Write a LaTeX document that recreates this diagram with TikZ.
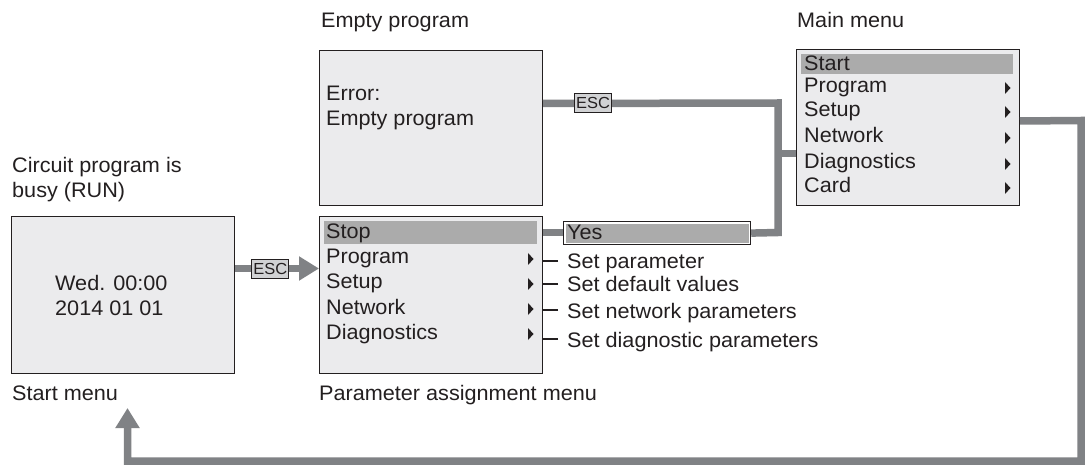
\documentclass[tikz,border=0pt]{standalone}
\usepackage{fontspec}
\setmainfont{Liberation Sans}[FakeStretch=1.03]
\usetikzlibrary{positioning,arrows.meta,calc}
\definecolor{ink}{HTML}{231F20}
\definecolor{screen}{HTML}{EBEBED}
\definecolor{hilite}{HTML}{ABABAB}
\definecolor{keyfill}{HTML}{D1D2D4}
\definecolor{wiregray}{HTML}{808285}

\begin{document}
\begin{tikzpicture}[x=1pt, y=-1pt,
    every node/.style={text=ink, font=\fontsize{21}{25}\selectfont, inner sep=0pt},
    screenbox/.style={draw=ink, fill=screen, line width=1pt, anchor=north west,
                      minimum width=223pt, minimum height=157pt},
    caption/.style={anchor=base west, align=left},
    keybox/.style={draw=ink, fill=keyfill, line width=0.8pt, minimum width=37pt,
                   minimum height=19pt, font=\fontsize{16}{18}\selectfont},
    yesbox/.style={draw=ink, fill=white, line width=1.2pt, anchor=north west,
                   minimum width=187pt, minimum height=23pt,
                   path picture={\fill[hilite] ($(path picture bounding box.south west)+(2pt,2pt)$)
                     rectangle ($(path picture bounding box.north east)+(-2pt,-2pt)$);}},
    wire/.style={draw=wiregray, line width=7.5pt},
    wirearrow/.style={wire, -{Triangle[length=20pt, width=23pt]}},
    stub/.style={draw=ink, line width=1.5pt},
  ]
  \fill[white] (0,0) rectangle (1085,465);
  \useasboundingbox (0,0) rectangle (1085,465);

  % screens
  \node[screenbox] (start) at (11,216) {};
  \node[screenbox] (param) at (319,216) {};
  \node[screenbox, minimum height=155pt] (empty) at (319,50) {};
  \node[screenbox, minimum height=156pt] (main) at (796,49) {};
  \fill[hilite] (324,221) rectangle (537,244);
  \fill[hilite] (801,54) rectangle (1013,74);

  % captions and screen texts (base = last line)
  \node[caption] (busy) at (12,198) {Circuit program is\\busy (RUN)};
  \node[caption] (clock) at (55,316) {Wed. 00:00\\2014 01 01};
  \node[caption] (startlbl) at (12,400) {Start menu};
  \node[caption] (paramlbl) at (319,400) {Parameter assignment menu};
  \node[caption] (emptylbl) at (321,28) {Empty program};
  \node[caption] (error) at (326,126) {Error:\\Empty program};
  \node[caption] (mainlbl) at (797,28) {Main menu};

  \node[caption] (stop) at (326,239) {Stop};
  \foreach \lbl/\yy [count=\i] in {Program/264, Setup/289, Network/314, Diagnostics/339} {
    \node[caption] (pitem\i) at (326,\yy) {\lbl};
    \fill[ink] (528,\yy-11) -- (533.5,\yy-5) -- (528,\yy+1) -- cycle;
  }
  \node[caption] (startitem) at (804,71) {Start};
  \foreach \lbl/\yy [count=\i] in {Program/93, Setup/117, Network/143, Diagnostics/169, Card/193} {
    \node[caption] (mitem\i) at (804,\yy) {\lbl};
    \fill[ink] (1005,\yy-11) -- (1010.5,\yy-5) -- (1005,\yy+1) -- cycle;
  }
  \foreach \lbl/\yy [count=\i] in {Set parameter/269, Set default values/292,
      Set network parameters/318, Set diagnostic parameters/347} {
    \node[caption] (set\i) at (567,\yy) {\lbl};
    \draw[stub] ($(set\i.base west)+(-9,-8)$) -- ++(-16,0);
  }

  % connectors
  \draw[wirearrow] ($(start.east)+(0,-26.5)$) -- node[keybox, pos=0.42] (esc1) {ESC}
    ($(param.west)+(0,-26.5)$);
  \coordinate (jtop) at (778,103);
  \coordinate (jmid) at (778,153.5);
  \coordinate (jbot) at (778,232.5);
  \draw[wire] (param.east |- jbot) -- (jbot -| 563,0);
  \node[yesbox] (yes) at (563,221) {};
  \node[caption] (yestext) at (567,240) {Yes};
  \draw[wire] ($(empty.east)+(0,-24.5)$) -- node[keybox, pos=0.213] (esc2) {ESC}
    (jtop) -- (jbot) -- (yes.east);
  \draw[wire] (jmid) -- (jmid -| main.west);

  \coordinate (rtop) at (1081,120.5);
  \coordinate (rbot) at (1081,461);
  \coordinate (lbot) at (127.5,461);
  \coordinate (ltip) at (127.5,408);
  \draw[wirearrow] ($(main.east)+(0,-6.5)$) -- (rtop) -- (rbot) -- (lbot) -- (ltip);
\end{tikzpicture}
\end{document}
